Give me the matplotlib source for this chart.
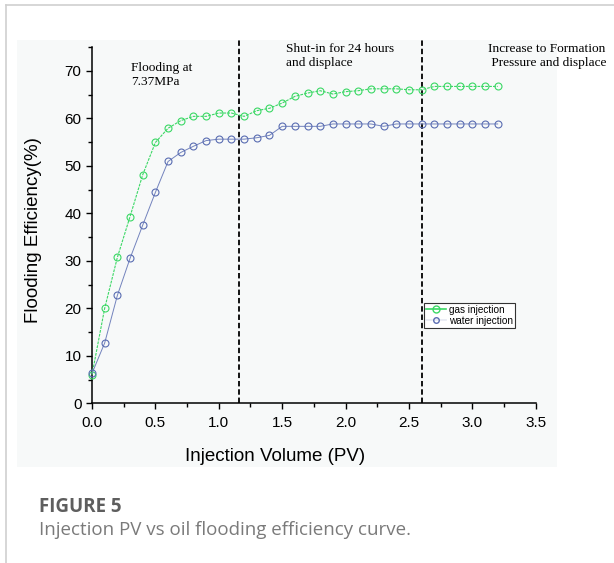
import matplotlib
matplotlib.use('Agg')
import matplotlib.pyplot as plt
from matplotlib.patches import Rectangle
from matplotlib.lines import Line2D
from matplotlib.ticker import MultipleLocator

# injection volume (PV)
pv = [0.0, 0.1, 0.2, 0.3, 0.4, 0.5, 0.6, 0.7, 0.8, 0.9, 1.0, 1.1, 1.2, 1.3, 1.4, 1.5, 1.6,
      1.7, 1.8, 1.9, 2.0, 2.1, 2.2, 2.3, 2.4, 2.5, 2.6, 2.7, 2.8, 2.9, 3.0, 3.1, 3.2]

# flooding efficiency (%)
gas = [6.0, 20.0, 30.7, 39.3, 48.1, 54.9, 57.9, 59.5, 60.4, 60.4, 61.1, 61.1, 60.4, 61.6, 62.1,
       63.2, 64.6, 65.3, 65.8, 65.1, 65.6, 65.8, 66.2, 66.2, 66.2, 66.0, 66.0, 66.7, 66.7, 66.7,
       66.7, 66.7, 66.7]
water = [6.3, 12.7, 22.7, 30.5, 37.5, 44.4, 50.9, 52.8, 54.1, 55.3, 55.6, 55.6, 55.6, 55.9, 56.4,
         58.3, 58.3, 58.3, 58.3, 58.8, 58.8, 58.8, 58.8, 58.3, 58.8, 58.8, 58.8, 58.8, 58.8, 58.8,
         58.8, 58.8, 58.8]

# stage boundaries
stage_lines = [1.16, 2.6]

W, H = 614, 563
fig = plt.figure(figsize=(W / 100, H / 100), dpi=100)
fig.patch.set_facecolor('white')

# page frame and light chart background
fig.patches.append(Rectangle((17 / W, 1 - 467 / H), (557 - 17) / W, (467 - 40) / H,
                             transform=fig.transFigure, facecolor='#f7f9f9',
                             edgecolor='none', zorder=-5))
fig.lines.append(Line2D([6 / W, 6 / W], [0, 1 - 5 / H], transform=fig.transFigure,
                        color='#cfcfcf', lw=1.2, zorder=-5))
fig.lines.append(Line2D([6 / W, 1], [1 - 5 / H, 1 - 5 / H], transform=fig.transFigure,
                        color='#cfcfcf', lw=1.2, zorder=-5))

ax = fig.add_axes([92 / W, 1 - 403.3 / H, (535.7 - 92) / W, (403.3 - 47) / H])
ax.set_facecolor('none')

green = '#3bd865'
blue = '#5a6db2'
ax.plot(pv, gas, color=green, lw=0.8, ls=(0, (2.5, 1)), marker='o', ms=5.0,
        mfc='none', mec=green, mew=0.8, clip_on=False, zorder=3)
ax.plot(pv, water, color='#7383bd', lw=0.7, marker='o', ms=5.0,
        mfc='none', mec=blue, mew=0.8, clip_on=False, zorder=3)

for x in stage_lines:
    ax.plot([x, x], [0, 76.6], color='black', lw=1.3, ls=(0, (3, 1.6)), clip_on=False, zorder=2)

ax.set_xlim(0, 3.5)
ax.set_ylim(0, 75)
ax.xaxis.set_major_locator(MultipleLocator(0.5))
ax.xaxis.set_minor_locator(MultipleLocator(0.25))
ax.yaxis.set_major_locator(MultipleLocator(10))
ax.yaxis.set_minor_locator(MultipleLocator(5))
ax.xaxis.set_major_formatter(plt.FormatStrFormatter('%.1f'))

for s in ['top', 'right']:
    ax.spines[s].set_visible(False)
for s in ['left', 'bottom']:
    ax.spines[s].set_linewidth(1.1)

ax.tick_params(which='major', direction='out', length=4.5, width=1.0, labelsize=11,
               labelfontfamily='Liberation Sans')
ax.tick_params(which='minor', direction='out', length=2.6, width=1.0)
ax.tick_params(axis='x', pad=5)
ax.tick_params(axis='y', pad=3)

ax.set_xlabel('Injection Volume (PV)', fontsize=13.5, family='Liberation Sans')
ax.set_ylabel('Flooding Efficiency(%)', fontsize=13.5, family='Liberation Sans')
ax.xaxis.set_label_coords(0.412, -0.125)
ax.yaxis.set_label_coords(-0.113, 0.487)

serif = dict(family='Liberation Serif', fontsize=9.6, va='top', clip_on=False)
ax.text(0.305, 71.9, 'Flooding at\n7.37MPa', ha='left', **serif)
ax.text(1.529, 75.8, 'Shut-in for 24 hours\nand displace', ha='left', **serif)
ax.text(3.59, 75.8, 'Increase to Formation\n Pressure and displace', ha='center',
        multialignment='center', **serif)

leg_handles = [
    Line2D([], [], color=green, lw=1.2, marker='o', ms=5, mfc='none', mec=green),
    Line2D([], [], color='#e6e9f2', lw=1.2, marker='o', ms=4, mfc='none', mec=blue),
]
leg = ax.legend(leg_handles, ['gas injection', 'water injection'], loc='upper left',
                bbox_to_anchor=(0.748, 0.282), frameon=True, fancybox=False,
                edgecolor='#333333', framealpha=1, facecolor='white',
                prop={'family': 'Liberation Sans', 'size': 7.2},
                handlelength=2.0, handletextpad=0.3, labelspacing=0.1,
                borderpad=0.2, borderaxespad=0)
leg.get_frame().set_linewidth(0.8)

fig.text(39 / W, 1 - 497 / H, 'FIGURE 5', family='Open Sans', weight='bold',
         fontsize=13.5, color='#5e5e5e', va='top')
fig.text(39 / W, 1 - 521 / H, 'Injection PV vs oil flooding efficiency curve.',
         family='Open Sans', fontsize=13.5, color='#7a7a7a', va='top')

fig.savefig('out.png', dpi=100)
